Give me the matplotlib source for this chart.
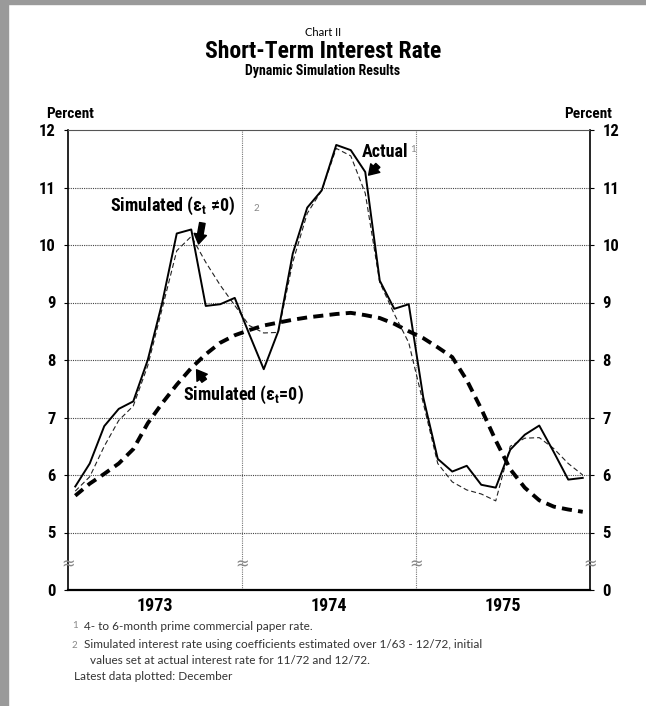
import numpy as np
import matplotlib
matplotlib.use('Agg')
import matplotlib.pyplot as plt
from matplotlib.patches import Rectangle

# Monthly data, Jan 1973 - Dec 1975 (percent)
months = np.arange(36)
actual = [5.8, 6.2, 6.85, 7.15, 7.28, 8.0, 9.0, 10.2, 10.27, 8.94, 8.97, 9.08,
          8.45, 7.84, 8.5, 9.85, 10.65, 10.95, 11.74, 11.65, 11.27, 9.38, 8.89, 8.97,
          7.35, 6.28, 6.06, 6.16, 5.83, 5.78, 6.44, 6.7, 6.86, 6.4, 5.92, 5.95]
sim_nonzero = [5.72, 5.97, 6.5, 6.95, 7.2, 7.9, 8.9, 9.9, 10.15, 9.7, 9.3, 8.95,
               8.6, 8.47, 8.48, 9.7, 10.55, 10.95, 11.68, 11.55, 10.9, 9.35, 8.8, 8.3,
               7.25, 6.2, 5.88, 5.74, 5.67, 5.55, 6.5, 6.64, 6.65, 6.46, 6.2, 6.0]
sim_zero = [5.64, 5.85, 6.02, 6.2, 6.45, 6.9, 7.25, 7.57, 7.86, 8.1, 8.3, 8.43,
            8.52, 8.6, 8.65, 8.7, 8.74, 8.77, 8.8, 8.82, 8.78, 8.73, 8.63, 8.5,
            8.38, 8.22, 8.05, 7.65, 7.15, 6.6, 6.1, 5.78, 5.56, 5.45, 5.4, 5.36]
years = ['1973', '1974', '1975']
y_ticks = [4, 5, 6, 7, 8, 9, 10, 11, 12]
y_labels = ['0', '5', '6', '7', '8', '9', '10', '11', '12']

plt.rcParams['font.family'] = ['Roboto Condensed', 'Noto Sans Condensed',
                               'Liberation Sans Narrow', 'Liberation Sans', 'DejaVu Sans']
plt.rcParams['font.stretch'] = 'condensed'
LIGHT = ['Lato', 'DejaVu Sans']

fig = plt.figure(figsize=(6.46, 7.06), dpi=100)
ax = fig.add_axes([68/646, 1-590/706, 522/646, 460/706])

# scan border
fig.patches.append(Rectangle((0, 0), 8/646, 1, transform=fig.transFigure,
                             color='#9a9a9a', zorder=0))
fig.patches.append(Rectangle((0, 1-4/706), 1, 4/706, transform=fig.transFigure,
                             color='#9a9a9a', zorder=0))

# grid
for v in y_ticks[1:-1]:
    ax.axhline(v, color='#444444', lw=0.8, ls=(0, (1, 1)), zorder=1)
for v in [11.5, 23.5]:
    ax.axvline(v, color='#777777', lw=0.8, ls=(0, (1, 1)), zorder=1)

ax.plot(months, sim_zero, color='black', lw=2.8, dashes=(2.6, 1.6), zorder=3)
ax.plot(months, sim_nonzero, color='#222222', lw=0.8, dashes=(4.5, 2.7), zorder=3)
ax.plot(months, actual, color='black', lw=1.4, zorder=4)

ax.set_xlim(-0.5, 35.5)
ax.set_ylim(4, 12)

ax.spines['top'].set_linestyle((0, (1, 1)))
ax.spines['top'].set_color('#555555')
ax.spines['bottom'].set_linewidth(1.6)
ax.spines['left'].set_linewidth(1.2)
ax.spines['right'].set_linewidth(1.2)

ax.set_yticks(y_ticks)
ax.set_yticklabels(y_labels, fontweight='bold', fontsize=12)
ax.tick_params(axis='y', which='both', left=True, right=True, labelleft=True,
               labelright=True, length=3, width=0.8, pad=6)
ax.set_xticks([11.5, 23.5])
ax.set_xticklabels([])
ax.set_xticks([5.5, 17.5, 29.5], minor=True)
ax.set_xticklabels(years, minor=True, fontweight='bold', fontsize=13)
ax.tick_params(axis='x', which='both', length=0, pad=5)

# axis break marks
for xb in [-0.5, 11.5, 23.5, 35.5]:
    ax.text(xb, 4.45, '≈', ha='center', va='center', fontsize=13, color='#888888',
            family='DejaVu Sans', zorder=5, clip_on=False)

arrow = dict(arrowstyle='simple,head_width=0.9,head_length=0.7,tail_width=0.4',
             fc='black', ec='black')

# annotations
ax.text(19.75, 11.62, 'Actual', fontsize=13, fontweight='bold', va='center')
ax.text(23.1, 11.66, '1', fontsize=7, color='#888888', va='center', family=LIGHT)
ax.annotate('', xy=(20.1, 11.18), xytext=(21.0, 11.42), arrowprops=arrow)

ax.text(2.4, 10.68, 'Simulated (ε$_\\mathregular{t}$ ≠0)', fontsize=13, fontweight='bold', va='center')
ax.text(12.3, 10.64, '2', fontsize=7, color='#888888', va='center', family=LIGHT)
ax.annotate('', xy=(8.47, 9.97), xytext=(8.8, 10.43), arrowprops=arrow)

ax.text(7.45, 7.4, 'Simulated (ε$_\\mathregular{t}$=0)', fontsize=13, fontweight='bold', va='center')
ax.annotate('', xy=(8.26, 7.87), xytext=(9.0, 7.6), arrowprops=arrow)

# titles
fig.text(0.5, 1-33/706, 'Chart II', ha='center', va='center', fontsize=8, family=LIGHT)
fig.text(0.5, 1-52/706, 'Short-Term Interest Rate', ha='center', va='center',
         fontsize=17, fontweight='bold')
fig.text(0.5, 1-71/706, 'Dynamic Simulation Results', ha='center', va='center',
         fontsize=10, fontweight='bold')
fig.text(46/646, 1-114/706, 'Percent', ha='left', va='center', fontsize=11, fontweight='bold')
fig.text(612/646, 1-114/706, 'Percent', ha='right', va='center', fontsize=11, fontweight='bold')

# footnotes
foot = dict(fontsize=8.5, color='#333333', family=LIGHT, va='center', ha='left')
fig.text(72/646, 1-626/706, '1', fontsize=7, color='#888888', va='center', family=LIGHT)
fig.text(84/646, 1-626/706, '4- to 6-month prime commercial paper rate.', **foot)
fig.text(72/646, 1-645/706, '2', fontsize=7, color='#888888', va='center', family=LIGHT)
fig.text(84/646, 1-645/706, 'Simulated interest rate using coefficients estimated over 1/63 - 12/72, initial', **foot)
fig.text(90/646, 1-661/706, 'values set at actual interest rate for 11/72 and 12/72.', **foot)
fig.text(74/646, 1-677/706, 'Latest data plotted: December', **foot)

fig.savefig('out.png', dpi=100)
